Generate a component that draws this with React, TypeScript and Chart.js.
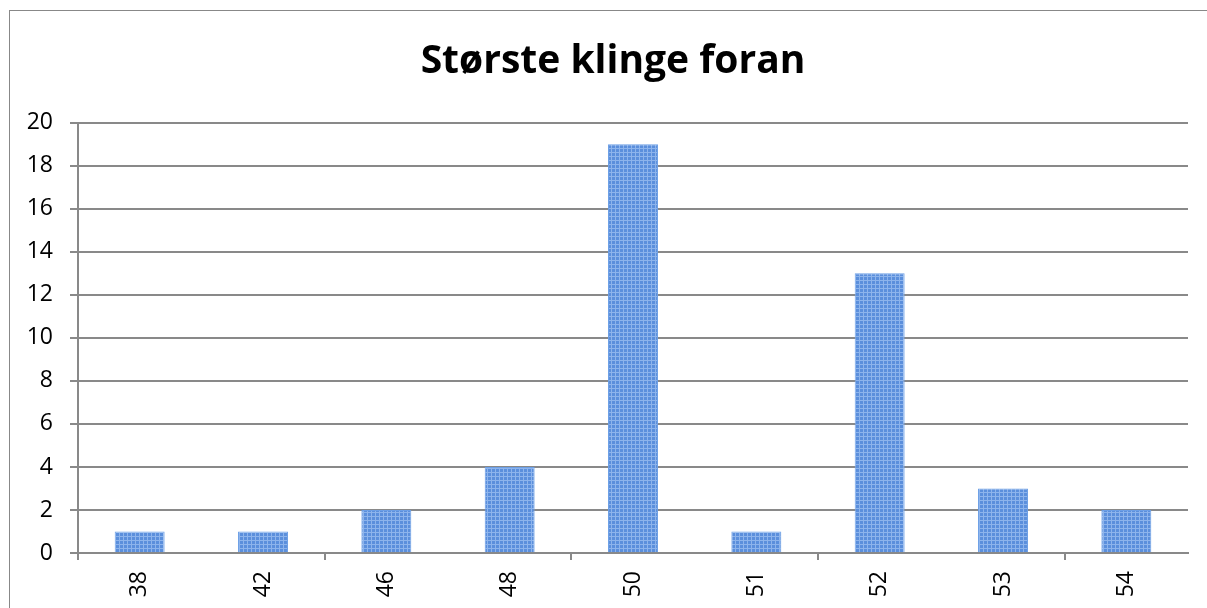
import React, { useEffect, useRef } from 'react';
import { Chart, registerables } from 'chart.js';

Chart.register(...registerables);

const titleText = 'Største klinge foran';
const categories = ['38', '42', '46', '48', '50', '51', '52', '53', '54'];
const counts = [1, 1, 2, 4, 19, 1, 13, 3, 2];
const yMin = 0;
const yMax = 20;
const yStep = 2;

const FONT = '"Open Sans", Lato, "Liberation Sans", sans-serif';
const GRID = '#898989';

function makePattern(ctx: CanvasRenderingContext2D) {
  const c = document.createElement('canvas');
  c.width = 4;
  c.height = 4;
  const g = c.getContext('2d')!;
  g.fillStyle = '#5b8fdc';
  g.fillRect(0, 0, 4, 4);
  g.fillStyle = '#8db4ec';
  g.fillRect(0, 1, 4, 1);
  g.fillRect(1, 0, 1, 4);
  return ctx.createPattern(c, 'repeat');
}

// The original chart frame extends past the right edge of the picture, so its title
// sits slightly right of the visible centre.
const shiftTitle = {
  id: 'shiftTitle',
  afterLayout(chart: any) {
    const t = chart.titleBlock;
    if (t) t.left += 28;
  },
};

export default function App() {
  const ref = useRef<HTMLCanvasElement>(null);
  useEffect(() => {
    const canvas = ref.current!;
    const ctx = canvas.getContext('2d')!;
    const pattern = makePattern(ctx);
    const chart = new Chart(ctx, {
      type: 'bar',
      data: {
        labels: categories,
        datasets: [
          {
            data: counts,
            backgroundColor: pattern as any,
            borderColor: '#6c9fe6',
            borderWidth: 1,
            categoryPercentage: 1,
            barPercentage: 0.405,
          },
        ],
      },
      plugins: [shiftTitle],
      options: {
        responsive: false,
        animation: false,
        layout: { padding: { left: 0, right: 19, top: 0, bottom: 0 } },
        plugins: {
          legend: { display: false },
          tooltip: { enabled: false },
          title: {
            display: true,
            text: titleText,
            color: '#000',
            font: { family: FONT, size: 39, weight: 'bold' },
            padding: { top: 27, bottom: 38 },
          },
        },
        scales: {
          x: {
            grid: {
              offset: true,
              drawOnChartArea: false,
              drawTicks: true,
              tickLength: 7,
              lineWidth: 2,
              tickColor: (c: any) =>
                c.index !== undefined && c.index % 2 === 0 && c.index < categories.length ? GRID : 'rgba(0,0,0,0)',
            },
            border: { display: true, color: GRID, width: 2 },
            ticks: {
              color: '#000',
              font: { family: FONT, size: 23 },
              minRotation: 90,
              maxRotation: 90,
              padding: 11,
            },
            afterFit: (s: any) => {
              s.height = 55;
            },
          },
          y: {
            min: yMin,
            max: yMax,
            ticks: {
              stepSize: yStep,
              color: '#000',
              font: { family: FONT, size: 23 },
              padding: 17,
            },
            grid: {
              color: GRID,
              lineWidth: 2,
              tickLength: 8,
              tickColor: GRID,
            },
            border: { display: true, color: GRID, width: 2 },
            afterFit: (s: any) => {
              s.width = 68;
            },
          },
        },
      },
    });
    return () => chart.destroy();
  }, []);

  return (
    <div
      style={{
        position: 'absolute',
        left: 9,
        top: 10,
        width: 1198,
        height: 598,
        boxSizing: 'border-box',
        borderLeft: '1px solid #888',
        borderTop: '1px solid #888',
        background: '#fff',
      }}
    >
      <canvas ref={ref} width={1197} height={597} style={{ display: 'block', width: 1197, height: 597 }} />
    </div>
  );
}
